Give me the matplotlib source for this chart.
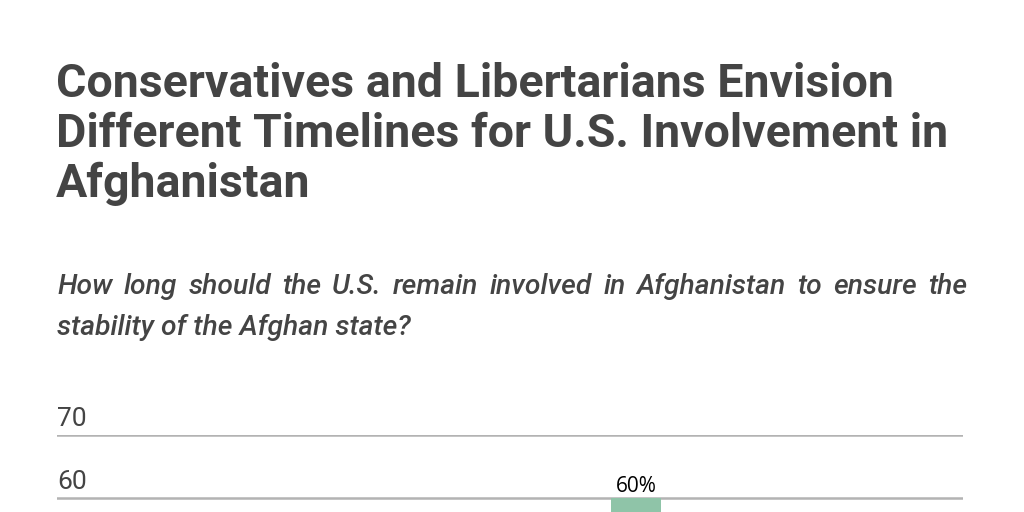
import matplotlib
matplotlib.use("Agg")
import matplotlib.pyplot as plt

# ---- data ----
title_lines = ["Conservatives and Libertarians Envision",
               "Different Timelines for U.S. Involvement in",
               "Afghanistan"]
subtitle_lines = ["How long should the U.S. remain involved in Afghanistan to ensure the",
                  "stability of the Afghan state?"]
categories = ["Group"]
values = [60]
y_ticks = [60, 70]

TEXT = "#444444"
GRID = "#b3b3b3"
BAR = "#8fc4a8"

fig = plt.figure(figsize=(10.24, 5.12), dpi=100)
fig.patch.set_facecolor("white")

W, H = 1024, 512
def fx(px): return px / W
def fy(py): return 1 - py / H

renderer = fig.canvas.get_renderer()

# title
for i, line in enumerate(title_lines):
    fig.text(fx(56), fy(97 + i * 50), line, fontsize=33.5, fontweight="bold",
             family="Roboto", color=TEXT, va="baseline", ha="left")

# subtitle: justified italic text
SUB_KW = dict(fontsize=20.3, style="italic", family="Roboto", fontweight="medium",
              color=TEXT, va="baseline", ha="left")
left, right = 57, 967
for i, line in enumerate(subtitle_lines):
    yb = fy(294 + i * 41)
    if i < len(subtitle_lines) - 1:
        words = line.split(" ")
        texts = [fig.text(0, yb, w, **SUB_KW) for w in words]
        widths = [t.get_window_extent(renderer).width for t in texts]
        gap = (right - left - sum(widths)) / (len(words) - 1)
        x = left
        for t, ww in zip(texts, widths):
            t.set_x(fx(x))
            x += ww + gap
    else:
        fig.text(fx(left), yb, line, **SUB_KW)

# axes (extends below the visible canvas)
ax_top = 435
px_per_unit = 6.3
ax_h = 70 * px_per_unit
ax = fig.add_axes([fx(57), fy(ax_top + ax_h), fx(906), ax_h / H])
ax.set_ylim(0, 70)
xs = list(range(len(categories)))
ax.set_xlim(-9.27, 5.23)
bars = ax.bar(xs, values, width=0.8, color=BAR, zorder=1)
for b, v in zip(bars, values):
    ax.text(b.get_x() + b.get_width() / 2, v + 1.0, f"{v}%", ha="center", va="baseline",
            fontsize=15, family="Open Sans", color="black")
for t in y_ticks:
    ax.axhline(t, color=GRID, lw=1.8, zorder=0)
    ax.text(0, t + 1.45, str(t), transform=ax.get_yaxis_transform(), ha="left",
            va="baseline", fontsize=19, family="Roboto", color=TEXT)
ax.set_yticks([])
ax.set_xticks([])
for s in ax.spines.values():
    s.set_visible(False)
ax.patch.set_alpha(0)

fig.savefig("out.png", dpi=100)
